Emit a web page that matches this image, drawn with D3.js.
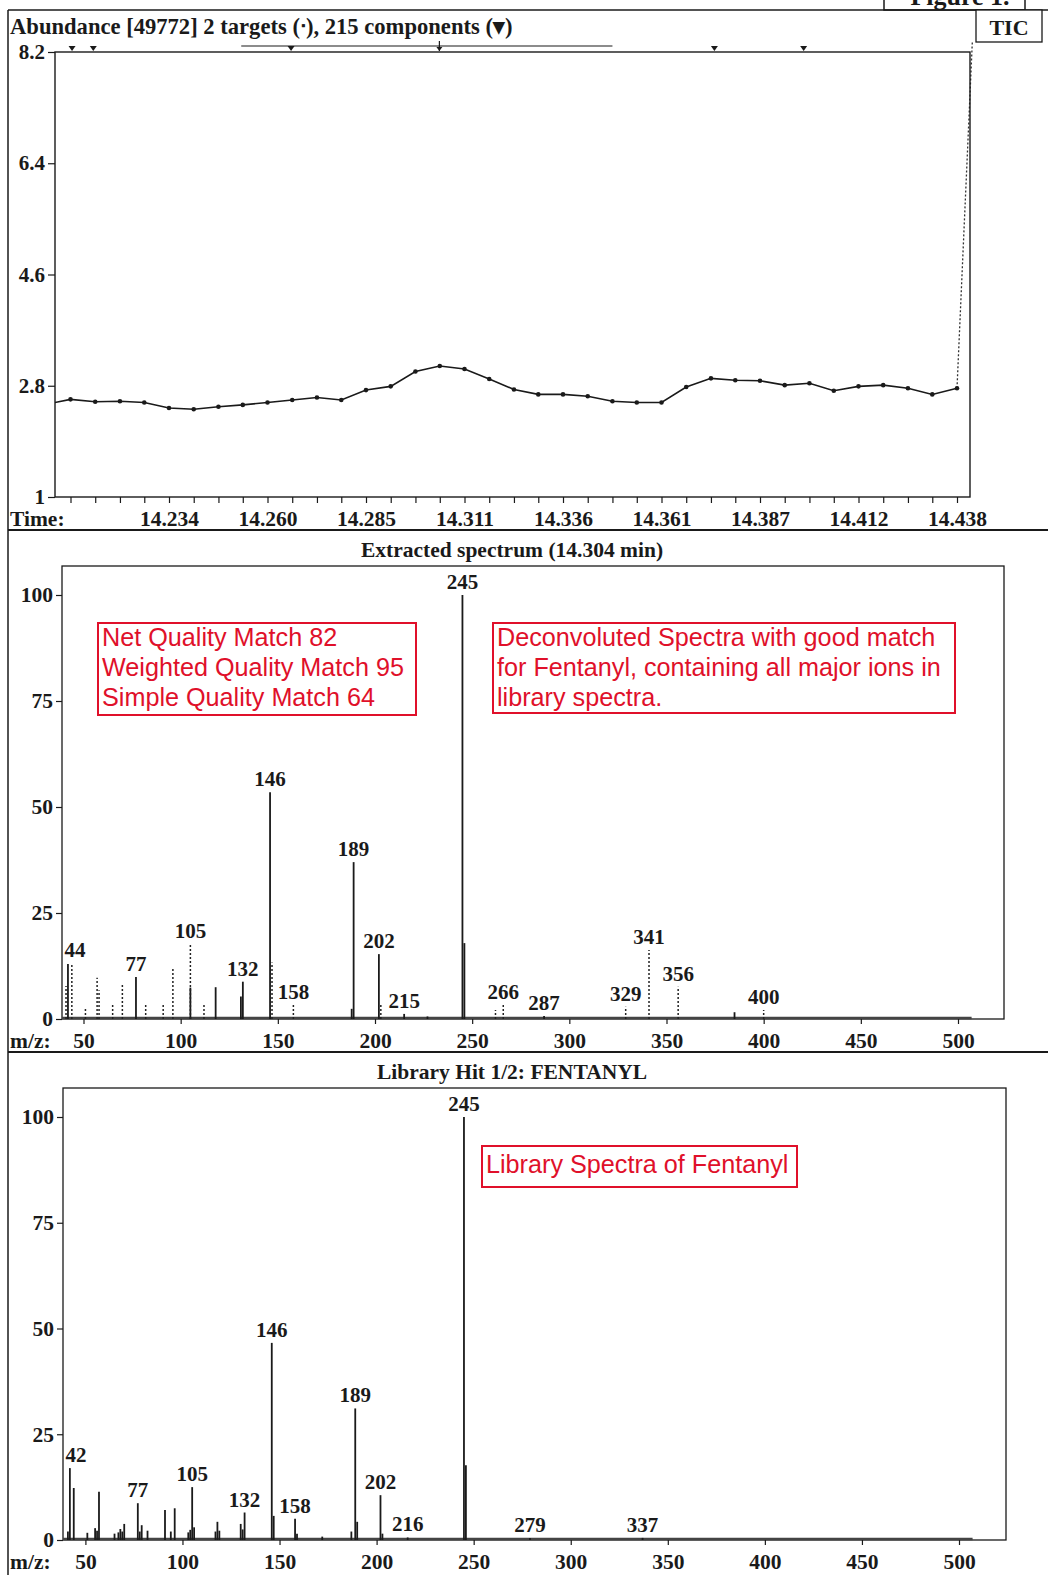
<!DOCTYPE html>
<html><head><meta charset="utf-8">
<script src="https://cdn.jsdelivr.net/npm/d3@7"></script>
<style>body{margin:0;background:#fff} svg{display:block}</style>
</head><body><svg id="c" width="1048" height="1575"></svg>
<script>
// ---------- TIC data ----------
const ticTimes = [14.2021,14.2085,14.2149,14.2213,14.2276,14.2340,14.2404,14.2468,14.2531,14.2595,
  14.2659,14.2723,14.2786,14.2850,14.2914,14.2978,14.3041,14.3105,14.3169,14.3233,14.3296,14.3360,
  14.3424,14.3488,14.3551,14.3615,14.3679,14.3743,14.3806,14.3870,14.3934,14.3998,14.4061,14.4125,
  14.4189,14.4253,14.4316,14.4380];
const ticValues = [2.50,2.58,2.54,2.55,2.53,2.44,2.42,2.46,2.49,2.53,2.57,2.61,2.57,2.73,2.79,3.03,3.12,
  3.07,2.91,2.74,2.66,2.66,2.63,2.55,2.53,2.53,2.78,2.92,2.89,2.88,2.81,2.84,2.72,2.79,2.81,2.76,2.66,2.76];
const ticSpikeTime = 14.4444, ticSpikeValue = 11.8;
const ticTickTimes = [14.2340,14.2595,14.2850,14.3105,14.3360,14.3615,14.3870,14.4125,14.4380];
const ticTickLabels = ["14.234","14.260","14.285","14.311","14.336","14.361","14.387","14.412","14.438"];
const ticYTicks = [1, 2.8, 4.6, 6.4, 8.2];
const componentTimes = [14.2089, 14.2144, 14.2656, 14.3752, 14.3983];
const targetTimes = [14.3040];
const componentRange = [14.2527, 14.3488];

// ---------- Extracted spectrum ----------
const extMz  = [42, 77, 105, 118, 131, 132, 146, 188, 189, 202, 215, 227, 245, 246, 287, 385];
const extInt = [13.0, 9.9, 7.4, 7.5, 5.3, 8.8, 53.5, 2.4, 37.0, 15.3, 1.2, 0.6, 100, 17.9, 0.7, 1.6];
const extRawMz  = [41, 44, 51, 57, 58, 65, 70, 82, 91, 96, 105, 112, 147, 158, 203, 262, 266, 329, 341, 356, 400];
const extRawInt = [7.8, 13.2, 2.6, 9.7, 6.8, 3.5, 8.2, 3.8, 3.6, 12.1, 17.7, 3.6, 13.3, 3.4, 3.3, 2.1, 3.3, 2.9, 16.3, 7.6, 2.1];
const extLabels = [44,77,105,132,146,158,189,202,215,245,266,287,329,341,356,400];

// ---------- Library spectrum ----------
const libMz  = [41,42,44,51,55,56,57,65,67,68,69,70,77,78,79,82,91,94,96,103,104,105,106,117,118,119,
  130,131,132,146,147,158,159,172,187,189,190,202,203,216,245,246,279,337];
const libInt = [2.0,17.0,12.3,1.7,2.8,2.2,11.4,1.5,1.8,2.6,2.0,3.8,8.7,2.0,3.5,2.2,7.1,2.0,7.5,1.8,2.4,12.5,3.0,2.0,4.3,2.2,
  3.8,2.5,6.5,46.6,5.7,5.0,1.5,0.8,2.0,31.1,4.3,10.6,1.5,0.6,100,17.7,0.5,0.5];
const libLabels = [42,77,105,132,146,158,189,202,216,245,279,337];

const mzTicks = [50,100,150,200,250,300,350,400,450,500];
const pctTicks = [0,25,50,75,100];

// ---------- drawing ----------
const svg = d3.select("#c");
const SERIF = "'Liberation Serif','Times New Roman',serif";
const SANS = "'Liberation Sans',Arial,sans-serif";
const RED = "#e0102a";
const INK = "#1a1a1a";
const defs = svg.append("defs");

// page frame
svg.append("text").attr("x", 960).attr("y", 5).attr("text-anchor","middle")
  .attr("font-family", SERIF).attr("font-weight","bold").attr("font-size", 26).attr("fill", INK).text("Figure 1.");
svg.append("rect").attr("x", 884).attr("y", -20).attr("width", 141).attr("height", 30)
  .attr("fill","none").attr("stroke", INK).attr("stroke-width", 1.5);
svg.append("line").attr("x1", 8).attr("x2", 1048).attr("y1", 10).attr("y2", 10).attr("stroke", INK).attr("stroke-width", 1.5);
svg.append("line").attr("x1", 8).attr("x2", 8).attr("y1", 10).attr("y2", 1575).attr("stroke", INK).attr("stroke-width", 1.5);
svg.append("line").attr("x1", 8).attr("x2", 1048).attr("y1", 530).attr("y2", 530).attr("stroke", INK).attr("stroke-width", 2);
svg.append("line").attr("x1", 8).attr("x2", 1048).attr("y1", 1052).attr("y2", 1052).attr("stroke", INK).attr("stroke-width", 2);

// TIC box
svg.append("rect").attr("x", 976).attr("y", 10).attr("width", 66).attr("height", 32)
  .attr("fill","#fff").attr("stroke", INK).attr("stroke-width", 1.3);
svg.append("text").attr("x", 1009).attr("y", 35).attr("text-anchor","middle")
  .attr("font-family", SERIF).attr("font-weight","bold").attr("font-size", 22).attr("fill", INK).text("TIC");

// ---------- TIC panel ----------
(function(){
  const L = 55, R = 970, T = 52, B = 497;
  const x = d3.scaleLinear().domain([ticTickTimes[0], ticTickTimes[ticTickTimes.length-1]]).range([169, 957]);
  const y = d3.scaleLinear().domain([1, 8.2]).range([B, T]);
  svg.append("text").attr("x", 10).attr("y", 34).attr("font-family", SERIF).attr("font-weight","bold")
    .attr("font-size", 22.6).attr("fill", INK).text("Abundance [49772] 2 targets (\u1427), 215 components (\u25BE)");

  defs.append("clipPath").attr("id","ticclip").append("rect").attr("x", L).attr("y", T).attr("width", R-L).attr("height", B-T);
  defs.append("clipPath").attr("id","spikeclip").append("rect").attr("x", L).attr("y", 42).attr("width", 980-L).attr("height", B-42);

  // dotted spike to next scan
  const lastI = ticTimes.length-1;
  svg.append("line").attr("clip-path","url(#spikeclip)")
    .attr("x1", x(ticTimes[lastI])).attr("y1", y(ticValues[lastI]))
    .attr("x2", x(ticSpikeTime)).attr("y2", y(ticSpikeValue))
    .attr("stroke", "#333").attr("stroke-width", 1.3).attr("stroke-dasharray","2,2");

  svg.append("rect").attr("x", L).attr("y", T).attr("width", R-L).attr("height", B-T)
    .attr("fill","none").attr("stroke", INK).attr("stroke-width", 1.4);

  const g = svg.append("g").attr("clip-path","url(#ticclip)");
  const pts = ticTimes.map((t,i)=>[t, ticValues[i]]);
  g.append("path").datum(pts).attr("fill","none").attr("stroke", INK).attr("stroke-width", 1.6)
    .attr("d", d3.line().x(d=>x(d[0])).y(d=>y(d[1])));
  g.selectAll("circle").data(pts.slice(1)).join("circle").attr("cx", d=>x(d[0])).attr("cy", d=>y(d[1]))
    .attr("r", 2.3).attr("fill", INK);

  // component range bar and markers
  svg.append("line").attr("x1", x(componentRange[0])).attr("x2", x(componentRange[1])).attr("y1", 46).attr("y2", 46)
    .attr("stroke", INK).attr("stroke-width", 1.2);
  svg.selectAll("path.comp").data(componentTimes).join("path").attr("class","comp")
    .attr("d", d=>`M${x(d)-3.5},46 L${x(d)+3.5},46 L${x(d)},51 Z`).attr("fill", INK);
  targetTimes.forEach(t=>{
    svg.append("line").attr("x1", x(t)).attr("x2", x(t)).attr("y1", 41).attr("y2", 51).attr("stroke", INK).attr("stroke-width", 1.2);
    svg.append("path").attr("d", `M${x(t)-3},47 L${x(t)+3},47 L${x(t)},51 Z`).attr("fill", INK);
  });

  // axes
  const yAx = svg.append("g").attr("transform", `translate(${L},0)`)
    .call(d3.axisLeft(y).tickValues(ticYTicks).tickSize(7).tickPadding(3).tickFormat(d=> d===1 ? "1" : d.toFixed(1)));
  yAx.select(".domain").remove();
  yAx.selectAll("line").attr("stroke", INK).attr("stroke-width", 1.2);
  yAx.selectAll("text").attr("font-family", SERIF).attr("font-weight","bold").attr("font-size", 21).attr("fill", INK);

  const minorTicks = ticTimes.filter(t => x(t) >= L+5 && x(t) <= R);
  const xAx = svg.append("g").attr("transform", `translate(0,${B})`)
    .call(d3.axisBottom(x).tickValues(minorTicks).tickSize(6).tickFormat(d=>{
      const k = ticTickTimes.findIndex(v=>Math.abs(v-d)<1e-6); return k>=0 ? ticTickLabels[k] : "";}));
  xAx.select(".domain").remove();
  xAx.selectAll("line").attr("stroke", INK).attr("stroke-width", 1.2);
  xAx.selectAll("text").attr("y", 29).attr("dy", null).attr("font-family", SERIF).attr("font-weight","bold")
    .attr("font-size", 21.5).attr("fill", INK);
  svg.append("text").attr("x", 10).attr("y", B+29).attr("font-family", SERIF).attr("font-weight","bold")
    .attr("font-size", 21.5).attr("fill", INK).text("Time:");
})();

// ---------- spectrum panels ----------
function spectrum(cfg){
  const {L, R, T, B, y100, x50, x500, title, titleY, solidMz, solidInt, dotMz, dotInt, labels, noiseEnd} = cfg;
  const x = d3.scaleLinear().domain([50, 500]).range([x50, x500]);
  const y = d3.scaleLinear().domain([0, 100]).range([B, y100]);
  svg.append("text").attr("x", 512).attr("y", titleY).attr("text-anchor","middle").attr("font-family", SERIF)
    .attr("font-weight","bold").attr("font-size", 21.5).attr("fill", INK).text(title);
  svg.append("rect").attr("x", L).attr("y", T).attr("width", R-L).attr("height", B-T)
    .attr("fill","none").attr("stroke", INK).attr("stroke-width", 1.3);
  // baseline noise band
  svg.append("line").attr("x1", L).attr("x2", x(noiseEnd)).attr("y1", B-1).attr("y2", B-1)
    .attr("stroke", "#444").attr("stroke-width", 2.6);
  const g = svg.append("g");
  g.selectAll("line.solid").data(solidMz.map((m,i)=>[m, solidInt[i]])).join("line").attr("class","solid")
    .attr("x1", d=>x(d[0])).attr("x2", d=>x(d[0])).attr("y1", B).attr("y2", d=>y(d[1]))
    .attr("stroke", INK).attr("stroke-width", 1.8);
  if (dotMz) g.selectAll("line.dot").data(dotMz.map((m,i)=>[m, dotInt[i]])).join("line").attr("class","dot")
    .attr("x1", d=>x(d[0])).attr("x2", d=>x(d[0])).attr("y1", B).attr("y2", d=>y(d[1]))
    .attr("stroke", "#222").attr("stroke-width", 1.5).attr("stroke-dasharray","2,2");
  // labels
  const maxAt = m => {
    let v = 0;
    solidMz.forEach((s,i)=>{ if (s===m) v = Math.max(v, solidInt[i]); });
    if (dotMz) dotMz.forEach((s,i)=>{ if (s===m) v = Math.max(v, dotInt[i]); });
    return v;
  };
  g.selectAll("text.lab").data(labels).join("text").attr("class","lab")
    .attr("x", d=>Math.max(L + 2 + String(d).length*5.5, x(d))).attr("y", d=>y(maxAt(d)) - 6)
    .attr("text-anchor","middle").attr("font-family", SERIF).attr("font-weight","bold").attr("font-size", 21)
    .attr("fill", INK).text(d=>d);
  // axes
  const yAx = svg.append("g").attr("transform", `translate(${L},0)`)
    .call(d3.axisLeft(y).tickValues(pctTicks).tickSize(6).tickPadding(3));
  yAx.select(".domain").remove();
  yAx.selectAll("line").attr("stroke", INK).attr("stroke-width", 1.2);
  yAx.selectAll("text").attr("font-family", SERIF).attr("font-weight","bold").attr("font-size", 21.5).attr("fill", INK);
  const xAx = svg.append("g").attr("transform", `translate(0,${B})`)
    .call(d3.axisBottom(x).tickValues(mzTicks).tickSize(5));
  xAx.select(".domain").remove();
  xAx.selectAll("line").attr("stroke", INK).attr("stroke-width", 1.2);
  xAx.selectAll("text").attr("y", 29).attr("dy", null).attr("font-family", SERIF).attr("font-weight","bold")
    .attr("font-size", 21.5).attr("fill", INK);
  svg.append("text").attr("x", 10).attr("y", B+29).attr("font-family", SERIF).attr("font-weight","bold")
    .attr("font-size", 21.5).attr("fill", INK).text("m/z:");
}

spectrum({L:62, R:1004, T:566, B:1019, y100:595, x50:83.5, x500:958,
  title:"Extracted spectrum (14.304 min)", titleY:557, solidMz:extMz, solidInt:extInt, dotMz:extRawMz, dotInt:extRawInt,
  labels:extLabels, noiseEnd:507});
spectrum({L:63, R:1006, T:1088, B:1540, y100:1117, x50:85.4, x500:959,
  title:"Library Hit 1/2: FENTANYL", titleY:1079, solidMz:libMz, solidInt:libInt, dotMz:null, dotInt:null,
  labels:libLabels, noiseEnd:507});

// ---------- annotation boxes ----------
function box(x0, y0, w, h, lines, base, step){
  svg.append("rect").attr("x", x0).attr("y", y0).attr("width", w).attr("height", h)
    .attr("fill","#fff").attr("stroke", RED).attr("stroke-width", 2);
  lines.forEach((s,i)=> svg.append("text").attr("x", x0+4).attr("y", base + i*step)
    .attr("font-family", SANS).attr("font-size", 25.2).attr("fill", RED).text(s));
}
box(98, 623, 318, 92, ["Net Quality Match 82","Weighted Quality Match 95","Simple Quality Match 64"], 646, 30);
box(493, 623, 462, 90, ["Deconvoluted Spectra with good match","for Fentanyl, containing all major ions in","library spectra."], 646, 30);
box(482, 1146, 315, 41, ["Library Spectra of Fentanyl"], 1173, 30);
</script></body></html>
